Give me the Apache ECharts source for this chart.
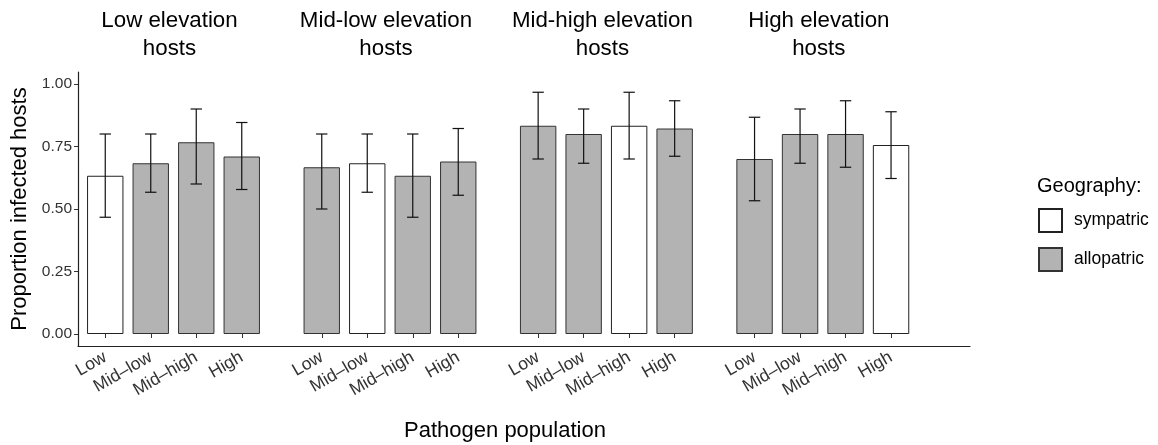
<!DOCTYPE html>
<html>
<head>
<meta charset="utf-8">
<script src="https://cdn.jsdelivr.net/npm/echarts@6/dist/echarts.min.js"></script>
<style>
  html, body { margin: 0; padding: 0; background: #fff; }
  #chart { width: 1158px; height: 445px; }
</style>
</head>
<body>
<div id="chart"></div>
<script>
// pathogen populations on x, host elevation in the facets
var pathogens = ['Low', 'Mid\u2013low', 'Mid\u2013high', 'High'];
var hostGroups = ['Low elevation\nhosts', 'Mid-low elevation\nhosts', 'Mid-high elevation\nhosts', 'High elevation\nhosts'];
var yTicks = [0, 0.25, 0.5, 0.75, 1.0];

var means = [
    [0.633, 0.683, 0.767, 0.710],
    [0.667, 0.683, 0.633, 0.690],
    [0.833, 0.800, 0.833, 0.822],
    [0.700, 0.800, 0.800, 0.756]
];
var lower = [
    [0.467, 0.567, 0.600, 0.578],
    [0.500, 0.567, 0.467, 0.555],
    [0.700, 0.683, 0.700, 0.711],
    [0.533, 0.683, 0.667, 0.622]
];
var upper = [
    [0.800, 0.800, 0.900, 0.846],
    [0.800, 0.800, 0.800, 0.822],
    [0.967, 0.900, 0.967, 0.933],
    [0.867, 0.900, 0.933, 0.889]
];
// which pathogen is the local (sympatric) one in each host group
var sympatric = [0, 1, 2, 3];

var FONT = '"Liberation Sans", Arial, sans-serif';
var yMin = -0.048, yMax = 1.048;
var plotTop = 72, plotHeight = 274;
var groupLeft = [82.5, 299, 515.4, 731.8];
var groupWidth = 182;

var grids = [{ left: 78, top: plotTop, width: 892, height: plotHeight }];
var xAxes = [{
    gridIndex: 0, type: 'value', min: 0, max: 1,
    axisLine: { show: true, onZero: false, lineStyle: { color: '#222', width: 1.2 } },
    axisTick: { show: false }, axisLabel: { show: false }, splitLine: { show: false }
}];
var yAxes = [{
    gridIndex: 0, type: 'value', min: yMin, max: yMax,
    axisLine: { show: true, onZero: false, lineStyle: { color: '#222', width: 1.2 } },
    axisTick: { show: true, length: 4, customValues: yTicks, lineStyle: { color: '#333' } },
    axisLabel: {
        customValues: yTicks, fontFamily: FONT, fontSize: 15.5, color: '#333', margin: 6,
        formatter: function (v) { return v.toFixed(2); }
    },
    splitLine: { show: false },
    name: 'Proportion infected hosts', nameLocation: 'middle', nameGap: 40,
    nameTextStyle: { fontFamily: FONT, fontSize: 22, color: '#000' }
}];
var graphics = [];
var series = [];

for (var g = 0; g < 4; g++) {
    var gi = g + 1;
    grids.push({ left: groupLeft[g], top: plotTop, width: groupWidth, height: plotHeight });
    xAxes.push({
        gridIndex: gi, type: 'category', data: pathogens,
        axisLine: { show: false },
        axisTick: { show: true, alignWithLabel: true, length: 4, lineStyle: { color: '#333' } },
        axisLabel: { rotate: 30, interval: 0, fontFamily: FONT, fontSize: 17.5, color: '#333', margin: 10 }
    });
    yAxes.push({ gridIndex: gi, type: 'value', min: yMin, max: yMax, show: false });
    graphics.push({
        type: 'text', x: groupLeft[g] + groupWidth / 2 - 4, y: 35,
        style: {
            text: hostGroups[g], fontFamily: FONT, fontSize: 22.3, fill: '#000',
            lineHeight: 28, align: 'center', verticalAlign: 'middle'
        }
    });

    var symData = [], alloData = [], errData = [];
    for (var i = 0; i < 4; i++) {
        symData.push(i === sympatric[g] ? means[g][i] : null);
        alloData.push(i === sympatric[g] ? null : means[g][i]);
        errData.push([i, lower[g][i], upper[g][i]]);
    }
    series.push({
        name: 'sympatric', type: 'bar', xAxisIndex: gi, yAxisIndex: gi,
        data: symData, barWidth: '80%', barGap: '-100%',
        itemStyle: { color: '#ffffff', borderColor: '#222', borderWidth: 1 }
    });
    series.push({
        name: 'allopatric', type: 'bar', xAxisIndex: gi, yAxisIndex: gi,
        data: alloData, barWidth: '80%', barGap: '-100%',
        itemStyle: { color: '#b3b3b3', borderColor: '#333', borderWidth: 1 }
    });
    series.push({
        type: 'custom', xAxisIndex: gi, yAxisIndex: gi, data: errData, z: 5,
        renderItem: function (params, api) {
            var x = api.value(0);
            var lo = api.coord([x, api.value(1)]);
            var hi = api.coord([x, api.value(2)]);
            var half = api.size([1, 0])[0] * 0.125;
            var st = { stroke: '#111', lineWidth: 1.2 };
            return {
                type: 'group',
                children: [
                    { type: 'line', shape: { x1: lo[0], y1: lo[1], x2: hi[0], y2: hi[1] }, style: st },
                    { type: 'line', shape: { x1: lo[0] - half, y1: lo[1], x2: lo[0] + half, y2: lo[1] }, style: st },
                    { type: 'line', shape: { x1: hi[0] - half, y1: hi[1], x2: hi[0] + half, y2: hi[1] }, style: st }
                ]
            };
        }
    });
}

graphics.push({
    type: 'text', x: 505, y: 431,
    style: { text: 'Pathogen population', fontFamily: FONT, fontSize: 22, fill: '#000', align: 'center', verticalAlign: 'middle' }
});
graphics.push({
    type: 'text', x: 1037, y: 186,
    style: { text: 'Geography:', fontFamily: FONT, fontSize: 20, fill: '#000', align: 'left', verticalAlign: 'middle' }
});

var myChart = echarts.init(document.getElementById('chart'), null, { renderer: 'canvas' });
myChart.setOption({
    animation: false,
    backgroundColor: '#fff',
    graphic: graphics,
    legend: {
        orient: 'vertical', left: 1038, top: 208, padding: 0,
        itemWidth: 23, itemHeight: 23, itemGap: 14,
        icon: 'rect', selectedMode: false,
        data: ['sympatric', 'allopatric'],
        textStyle: { fontFamily: FONT, fontSize: 17.5, color: '#000', padding: [0, 0, 0, 7] }
    },
    grid: grids,
    xAxis: xAxes,
    yAxis: yAxes,
    series: series
});
</script>
</body>
</html>
